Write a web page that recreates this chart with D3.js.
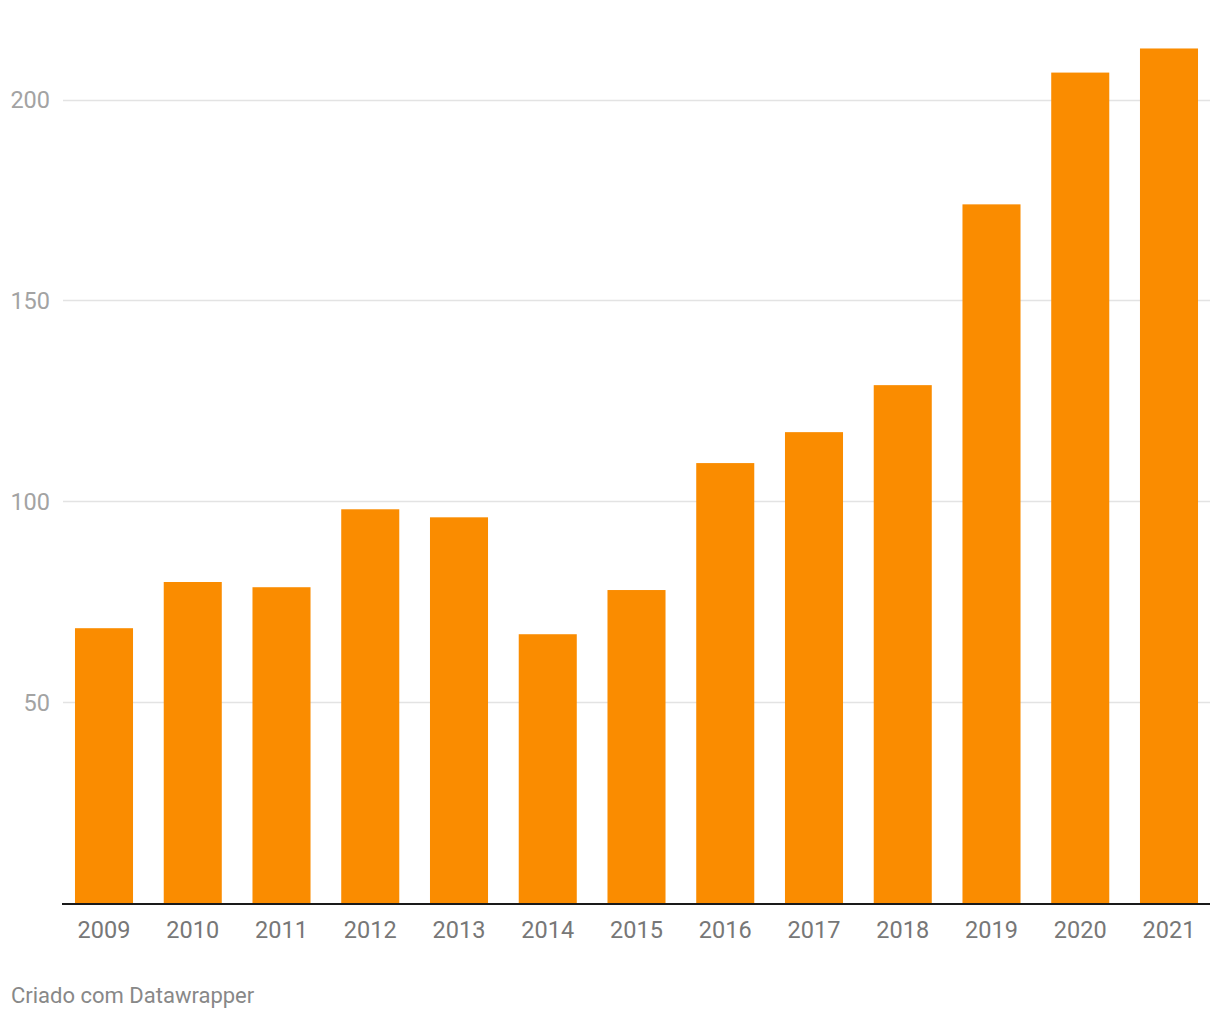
<!DOCTYPE html>
<html><head><meta charset="utf-8">
<script src="https://cdn.jsdelivr.net/npm/d3@7"></script>
<style>body{margin:0;background:#fff;font-family:Roboto,sans-serif}</style>
</head><body>
<svg id="c" width="1220" height="1020"></svg>
<script>
const years = ["2009","2010","2011","2012","2013","2014","2015","2016","2017","2018","2019","2020","2021"];
const values = [68.4, 79.9, 78.6, 98.0, 96.0, 66.9, 77.9, 109.5, 117.2, 128.9, 173.9, 206.7, 212.7];
const yTicks = [50, 100, 150, 200];
const footer = "Criado com Datawrapper";

(function () {
const svg = d3.select("#c");
const left = 63, right = 1210, bottom = 903;
const x = d3.scaleBand().domain(years).range([left, right]).paddingInner(0.346).paddingOuter(0.135);
const y = d3.scaleLinear().domain([0, 200]).range([bottom, 99.5]);

// gridlines
svg.append("g").selectAll("line").data(yTicks).join("line")
  .attr("x1", left).attr("x2", right)
  .attr("y1", d => Math.round(y(d)) + 0.5).attr("y2", d => Math.round(y(d)) + 0.5)
  .attr("stroke", "#e3e3e3").attr("stroke-width", 1.5);

// y labels
svg.append("g").selectAll("text").data(yTicks).join("text")
  .attr("x", 50).attr("y", d => y(d) + 8.5)
  .attr("text-anchor", "end").attr("fill", "#a3a3a3")
  .style("font-size", "23.5px").text(d => d);

// bars
svg.append("g").selectAll("rect").data(values).join("rect")
  .attr("x", (d, i) => x(years[i])).attr("width", x.bandwidth())
  .attr("y", d => y(d)).attr("height", d => bottom - y(d))
  .attr("fill", "#fa8c00");

// baseline
svg.append("line").attr("x1", left - 1).attr("x2", right)
  .attr("y1", bottom + 1).attr("y2", bottom + 1)
  .attr("stroke", "#1a1a1a").attr("stroke-width", 2);

// x labels
const xAxis = d3.axisBottom(x).tickSize(0).tickPadding(0);
const gx = svg.append("g").attr("transform", `translate(0,${bottom})`).call(xAxis);
gx.select(".domain").remove();
gx.selectAll("text").attr("y", 35).attr("dy", 0).attr("fill", "#777")
  .style("font-size", "23.5px").style("font-family", "Roboto, sans-serif");

svg.append("text").attr("x", 11).attr("y", 1003).attr("fill", "#888")
  .style("font-size", "22px").text(footer);
})();
</script>
</body></html>
